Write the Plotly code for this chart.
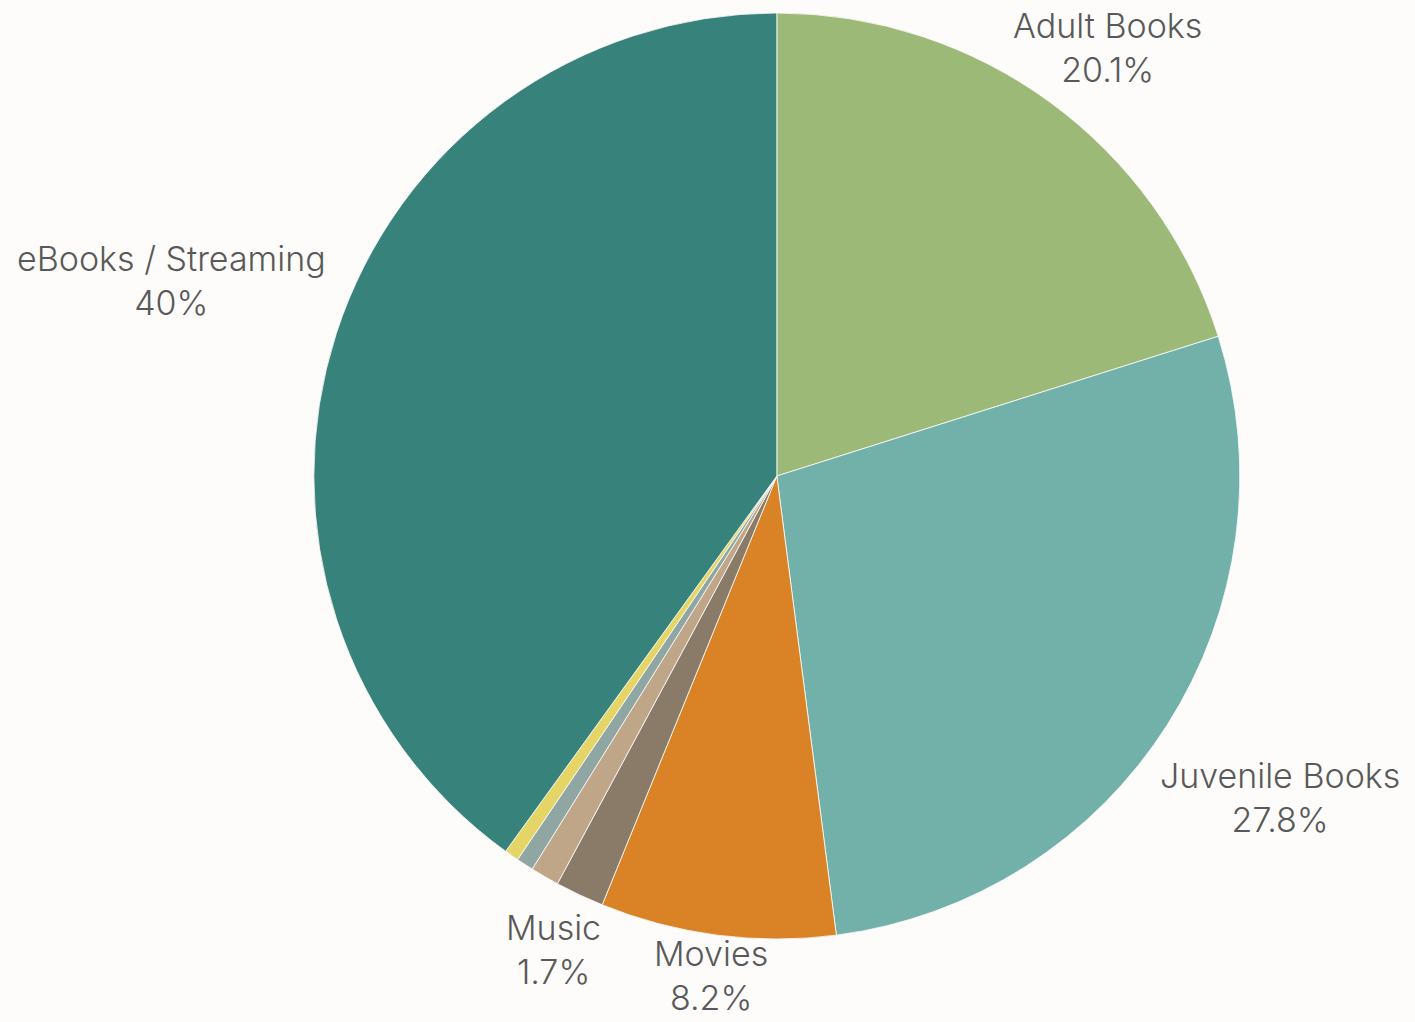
import math
import plotly.graph_objects as go

# Share of library circulation by material type, clockwise from 12 o'clock
categories = ["Adult Books", "Juvenile Books", "Movies", "Music",
              "Audiobooks", "Magazines", "Other", "eBooks / Streaming"]
shares = [20.1, 27.8, 8.2, 1.7, 1.0, 0.6, 0.5, 40]
colors = ["#9CB978", "#72B0AA", "#D98226", "#8A7A68",
          "#BFA688", "#8FA6A3", "#E5D566", "#37827A"]
# only the larger slices carry a label
show_label = [True, True, True, True, False, False, False, True]

bg = "#FDFCFA"
text_color = "#595959"
font_family = "Inter, Open Sans, sans-serif"
font_size = 34

W, H = 1415, 1022
margin_t, margin_b = 13, 83
dom_x = [0.098, 1.0]

fig = go.Figure(go.Pie(
    labels=categories,
    values=shares,
    textinfo="none",
    sort=False,
    direction="clockwise",
    rotation=0,
    automargin=False,
    marker=dict(colors=colors, line=dict(color=bg, width=0.8)),
    showlegend=False,
    domain=dict(x=dom_x, y=[0, 1]),
    hovertemplate="%{label}: %{value}%<extra></extra>",
))

# Pie geometry in pixels (same as what the pie trace gets from its domain)
plot_h = H - margin_t - margin_b
plot_w = W * (dom_x[1] - dom_x[0])
radius = min(plot_w, plot_h) / 2
cx = W * (dom_x[0] + dom_x[1]) / 2
cy = margin_t + plot_h / 2

# Outside labels: placed on each slice's mid-angle, pushed out just far
# enough that the label box clears the rim
total = sum(shares)
cum = 0.0
block_half = 1.3 * font_size  # half height of a two-line label block
for cat, val, show in zip(categories, shares, show_label):
    mid = (cum + val / 2) / total
    cum += val
    if not show:
        continue
    theta = 2 * math.pi * mid
    s, c = math.sin(theta), math.cos(theta)
    half_w = 0.5 * len(cat) * 0.51 * 35
    half_h = 35
    dist = radius + 10 + half_w * abs(s) + half_h * abs(c)
    lx = cx + dist * s
    ly = cy - dist * c
    # keep the label block inside the chart area
    ly = max(ly, margin_t + half_h)
    ly = min(ly, H - 2 - block_half)
    fig.add_annotation(
        x=lx / W,
        y=1 - (ly - margin_t) / plot_h,
        xref="paper", yref="paper",
        xanchor="center", yanchor="middle",
        text=f"{cat}<br>{val:g}%", showarrow=False,
        font=dict(family=font_family, size=font_size,
                  color=text_color, weight=300),
    )

fig.update_layout(
    width=W,
    height=H,
    margin=dict(l=0, r=0, t=margin_t, b=margin_b, autoexpand=False),
    paper_bgcolor=bg,
    plot_bgcolor=bg,
)

fig.write_html("out.html")
